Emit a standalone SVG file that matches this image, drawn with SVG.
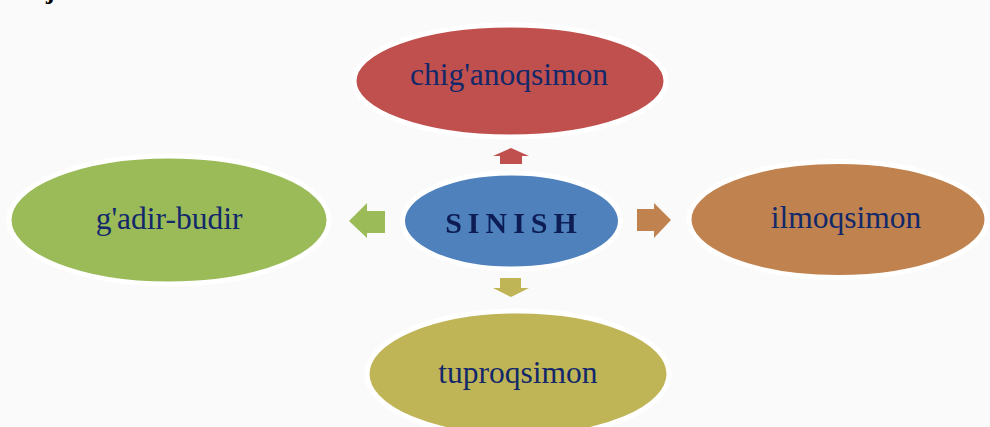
<svg xmlns="http://www.w3.org/2000/svg" width="990" height="427" viewBox="0 0 990 427">
  <defs>
    <style>
      .node { stroke: #ffffff; stroke-width: 5; }
      .label { font-family: "Liberation Serif", "Times New Roman", serif; font-size: 31.5px; fill: #12286a; text-anchor: middle; dominant-baseline: central; }
      .core { font-family: "Liberation Serif", "Times New Roman", serif; font-size: 30px; font-weight: bold; fill: #0b1f55; text-anchor: middle; dominant-baseline: central; letter-spacing: 6px; }
    </style>
    <filter id="soft" x="-10%" y="-30%" width="120%" height="160%">
      <feGaussianBlur stdDeviation="0.6"/>
    </filter>
  </defs>

  <rect width="990" height="427" fill="#fafafa"/>

  <!-- heading fragment at the top edge -->
  <text x="46" y="-1" font-family="Liberation Serif, serif" font-size="26" font-weight="bold" fill="#000">j</text>

  <!-- outer nodes -->
  <g id="node-chiganoqsimon">
    <ellipse class="node" cx="510" cy="81" rx="156" ry="56" fill="#c0504d"/>
    <text class="label" x="509" y="74">chig'anoqsimon</text>
  </g>
  <g id="node-gadir-budir">
    <ellipse class="node" cx="169" cy="220" rx="160" ry="64" fill="#9bbb59"/>
    <text class="label" x="169" y="218">g'adir-budir</text>
  </g>
  <g id="node-ilmoqsimon">
    <ellipse class="node" cx="838" cy="219.5" rx="149" ry="58" fill="#c0834f"/>
    <text class="label" x="846" y="217">ilmoqsimon</text>
  </g>
  <g id="node-tuproqsimon">
    <ellipse class="node" cx="518" cy="374" rx="151" ry="63" fill="#bfb456"/>
    <text class="label" x="518" y="372">tuproqsimon</text>
  </g>

  <!-- centre node -->
  <g id="node-sinish">
    <ellipse class="node" cx="511.5" cy="221" rx="109" ry="48" fill="#4f81bd"/>
    <text class="core" x="514" y="222" filter="url(#soft)">SINISH</text>
  </g>

  <!-- block arrows from the centre -->
  <g id="connectors">
    <polygon points="511,148 529,156 522,156 522,164 500,164 500,156 493,156" fill="#c0504d"/>
    <polygon points="511,297 529,288 521,288 521,278 500,278 500,288 493,288" fill="#bfb456"/>
    <polygon points="349,221 367,203 367,211 385,211 385,233 367,233 367,238" fill="#9bbb59"/>
    <polygon points="671,220 654,203 654,209 637,209 637,231 654,231 654,238" fill="#c0834f"/>
  </g>
</svg>
